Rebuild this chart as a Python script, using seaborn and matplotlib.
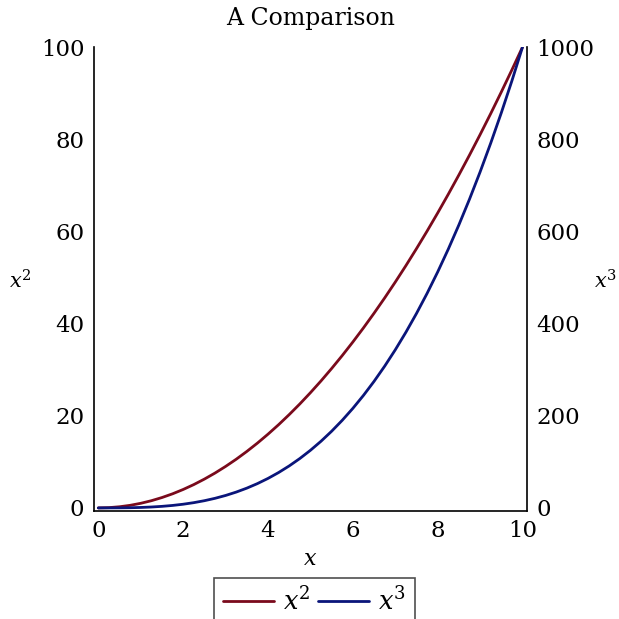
import matplotlib
matplotlib.use("Agg")
import matplotlib.pyplot as plt
import seaborn as sns
import pandas as pd

# Values (every quarter unit of x)
x_vals = [0, 0.25, 0.5, 0.75, 1, 1.25, 1.5, 1.75, 2, 2.25, 2.5, 2.75, 3, 3.25, 3.5, 3.75,
          4, 4.25, 4.5, 4.75, 5, 5.25, 5.5, 5.75, 6, 6.25, 6.5, 6.75, 7, 7.25, 7.5, 7.75,
          8, 8.25, 8.5, 8.75, 9, 9.25, 9.5, 9.75, 10]
sq_vals = [0, 0.06, 0.25, 0.56, 1, 1.56, 2.25, 3.06, 4, 5.06, 6.25, 7.56, 9, 10.56, 12.25,
           14.06, 16, 18.06, 20.25, 22.56, 25, 27.56, 30.25, 33.06, 36, 39.06, 42.25, 45.56,
           49, 52.56, 56.25, 60.06, 64, 68.06, 72.25, 76.56, 81, 85.56, 90.25, 95.06, 100]
cube_vals = [0, 0.02, 0.13, 0.42, 1, 1.95, 3.38, 5.36, 8, 11.39, 15.63, 20.8, 27, 34.33,
             42.88, 52.73, 64, 76.77, 91.13, 107.17, 125, 144.7, 166.38, 190.11, 216, 244.14,
             274.63, 307.55, 343, 381.08, 421.88, 465.48, 512, 561.52, 614.13, 669.92, 729,
             791.45, 857.38, 926.86, 1000]
x_ticks = [0, 2, 4, 6, 8, 10]
left_ticks = [0, 20, 40, 60, 80, 100]
right_ticks = [0, 200, 400, 600, 800, 1000]

df = pd.DataFrame({"x": x_vals, "sq": sq_vals, "cube": cube_vals})

sns.set_theme(style="white")
plt.rcParams["font.family"] = ["DejaVu Serif"]
plt.rcParams["mathtext.fontset"] = "dejavuserif"
plt.rcParams["text.color"] = "black"
plt.rcParams["axes.labelcolor"] = "black"
plt.rcParams["xtick.color"] = "black"
plt.rcParams["ytick.color"] = "black"

fig = plt.figure(figsize=(6.19, 6.19), dpi=100)
ax = fig.add_axes([0.152, 0.175, 0.699, 0.749])
ax2 = ax.twinx()

sns.lineplot(data=df, x="x", y="sq", ax=ax, color="#7a0a1c", linewidth=2, label="$x^2$", legend=False)
sns.lineplot(data=df, x="x", y="cube", ax=ax2, color="#0a157a", linewidth=2, label="$x^3$", legend=False)

ax.set_xlim(-0.1, 10.1)
ax.set_ylim(-0.6, 100)
ax2.set_ylim(-6, 1000)
ax.set_xticks(x_ticks)
ax.set_yticks(left_ticks)
ax2.set_yticks(right_ticks)

for a in (ax, ax2):
    a.spines["top"].set_visible(False)
    for s in a.spines.values():
        s.set_color("black")
        s.set_linewidth(1.2)
    a.tick_params(length=0, labelsize=16.5, pad=7)
ax.spines["right"].set_visible(False)
ax2.spines["left"].set_visible(False)
ax2.spines["bottom"].set_visible(False)

ax.set_title("A Comparison", fontsize=17, pad=16)
ax.set_xlabel("$x$", fontsize=16, labelpad=4)
ax.set_ylabel("$x^2$", fontsize=15, rotation=0, va="center", ha="center")
ax2.set_ylabel("$x^3$", fontsize=15, rotation=0, va="center", ha="center")
ax.yaxis.set_label_coords(-0.171, 0.495)
ax2.yaxis.set_label_coords(1.182, 0.495)

handles = ax.get_lines()[:1] + ax2.get_lines()[:1]
leg = fig.legend(handles, ["$x^2$", "$x^3$"], loc="upper center", bbox_to_anchor=(0.508, 0.067),
                 ncol=2, fontsize=18.5, frameon=True, fancybox=False, handlelength=2.0,
                 columnspacing=0.3, handletextpad=0.35, borderpad=0.35, borderaxespad=0)
leg.get_frame().set_edgecolor("#222222")
leg.get_frame().set_linewidth(1.2)

fig.savefig("out.png", dpi=100)
